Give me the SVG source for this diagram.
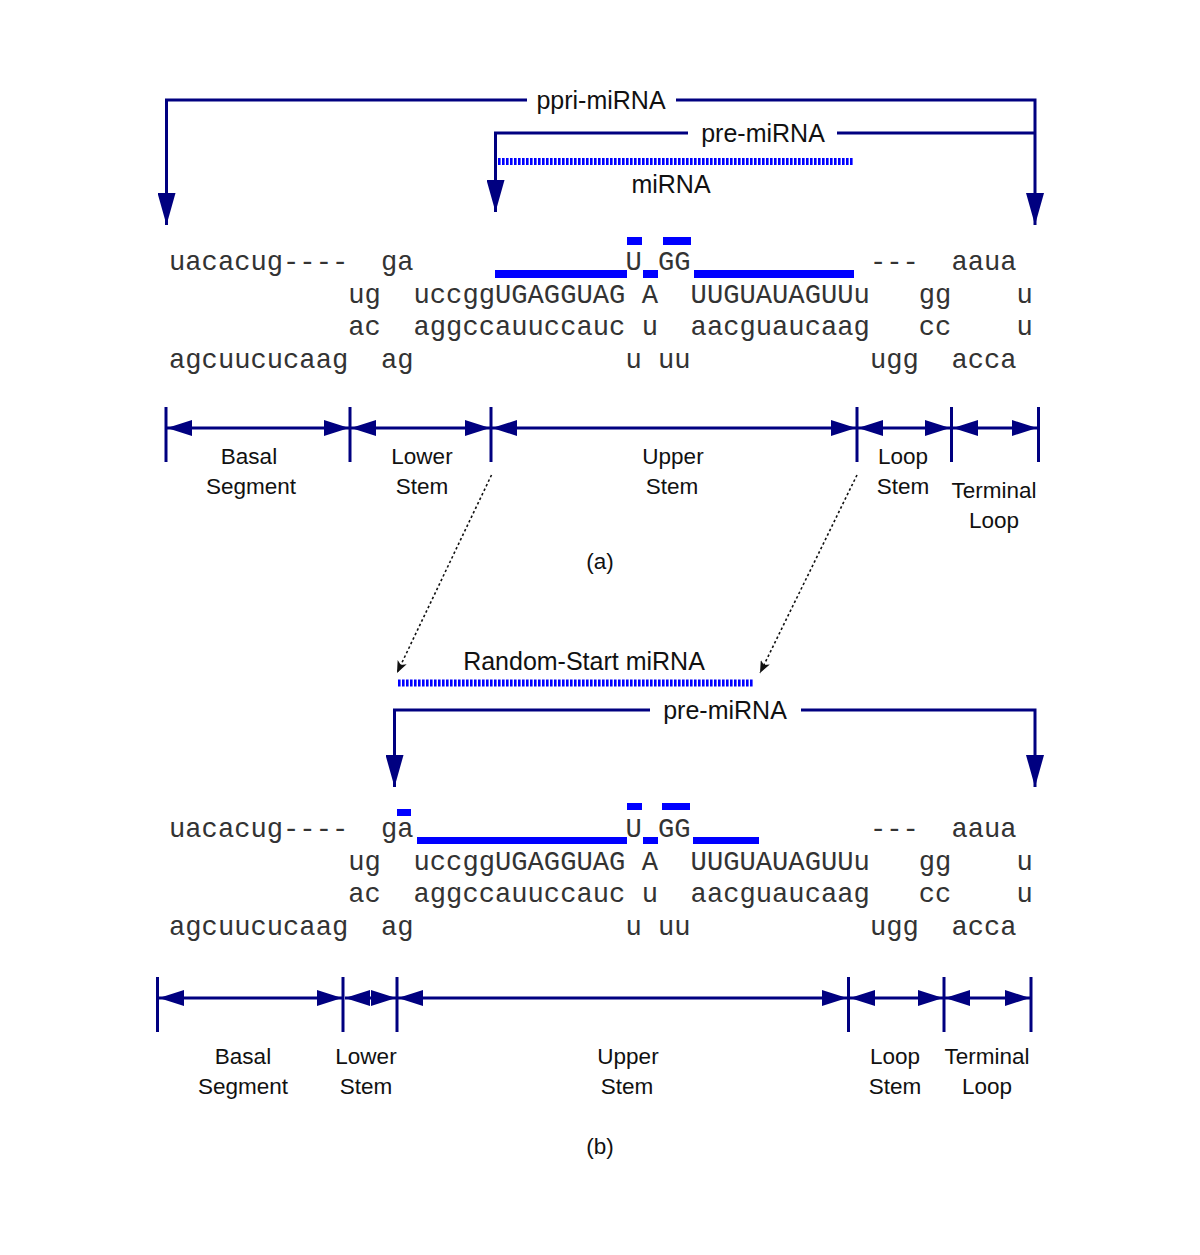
<svg xmlns="http://www.w3.org/2000/svg" width="1200" height="1255" viewBox="0 0 1200 1255">
<defs>
<style>
.nv{stroke:#000080;stroke-width:3;fill:none}
.tk{stroke:#000080;stroke-width:3}
.dot{stroke:#111;stroke-width:1.6;stroke-dasharray:2.5 2.5;fill:none}
.mir{stroke:#0000ff;stroke-width:7;stroke-dasharray:2.6 1.4;fill:none}
.bar{fill:#0000ff}
.lbl{font-family:"Liberation Sans",Arial,sans-serif;font-size:25px;fill:#111;text-anchor:middle}
.seg{font-family:"Liberation Sans",Arial,sans-serif;font-size:22.5px;fill:#111;text-anchor:middle}
.seq{font-family:"Liberation Mono","Courier New",monospace;font-size:27.16px;fill:#333}
</style>
<marker id="down" markerUnits="userSpaceOnUse" viewBox="0 0 32 18" refX="32" refY="9" markerWidth="32" markerHeight="18" orient="auto"><path d="M0,0 L32,9 L0,18 z" fill="#000080"/></marker>
<marker id="tip" markerUnits="userSpaceOnUse" viewBox="0 0 25 16" refX="25" refY="8" markerWidth="25" markerHeight="16" orient="auto-start-reverse"><path d="M0,0 L25,8 L0,16 z" fill="#000080"/></marker>
<marker id="sm" markerUnits="userSpaceOnUse" viewBox="0 0 12 10" refX="12" refY="5" markerWidth="12" markerHeight="10" orient="auto"><path d="M0,0 L12,5 L0,10 L3,5 z" fill="#111"/></marker>
</defs>
<rect width="1200" height="1255" fill="#fff"/>

<g id="connectors">
<path class="nv" d="M527,100 H166.5 V225" marker-end="url(#down)"/>
<path class="nv" d="M676,100 H1035 V225" marker-end="url(#down)"/>
<path class="nv" d="M688,133 H495.5 V212" marker-end="url(#down)"/>
<path class="nv" d="M837,133 H1035"/>
<line class="mir" x1="498" y1="161.5" x2="853" y2="161.5"/>
<line class="tk" x1="166" y1="407" x2="166" y2="462"/>
<line class="tk" x1="350" y1="407" x2="350" y2="462"/>
<line class="tk" x1="491" y1="407" x2="491" y2="462"/>
<line class="tk" x1="857" y1="407" x2="857" y2="462"/>
<line class="tk" x1="951.5" y1="407" x2="951.5" y2="462"/>
<line class="tk" x1="1038.5" y1="407" x2="1038.5" y2="462"/>
<line class="nv" x1="167" y1="428" x2="349" y2="428" marker-start="url(#tip)" marker-end="url(#tip)"/>
<line class="nv" x1="351" y1="428" x2="490" y2="428" marker-start="url(#tip)" marker-end="url(#tip)"/>
<line class="nv" x1="492" y1="428" x2="856" y2="428" marker-start="url(#tip)" marker-end="url(#tip)"/>
<line class="nv" x1="858" y1="428" x2="950" y2="428" marker-start="url(#tip)" marker-end="url(#tip)"/>
<line class="nv" x1="953" y1="428" x2="1037" y2="428" marker-start="url(#tip)" marker-end="url(#tip)"/>
<line class="dot" x1="491.5" y1="475" x2="397" y2="673" marker-end="url(#sm)"/>
<line class="dot" x1="857" y1="475" x2="760" y2="673" marker-end="url(#sm)"/>
<line class="mir" x1="398" y1="683" x2="753" y2="683"/>
<path class="nv" d="M650,710 H394.5 V787" marker-end="url(#down)"/>
<path class="nv" d="M801,710 H1035 V787" marker-end="url(#down)"/>
<line class="tk" x1="157.5" y1="977" x2="157.5" y2="1032"/>
<line class="tk" x1="343" y1="977" x2="343" y2="1032"/>
<line class="tk" x1="397" y1="977" x2="397" y2="1032"/>
<line class="tk" x1="848.5" y1="977" x2="848.5" y2="1032"/>
<line class="tk" x1="944" y1="977" x2="944" y2="1032"/>
<line class="tk" x1="1031" y1="977" x2="1031" y2="1032"/>
<line class="nv" x1="159" y1="998" x2="342" y2="998" marker-start="url(#tip)" marker-end="url(#tip)"/>
<line class="nv" x1="345" y1="998" x2="396" y2="998" marker-start="url(#tip)" marker-end="url(#tip)"/>
<line class="nv" x1="398" y1="998" x2="847" y2="998" marker-start="url(#tip)" marker-end="url(#tip)"/>
<line class="nv" x1="850" y1="998" x2="943" y2="998" marker-start="url(#tip)" marker-end="url(#tip)"/>
<line class="nv" x1="945" y1="998" x2="1030" y2="998" marker-start="url(#tip)" marker-end="url(#tip)"/>
</g>

<g id="labels-a">
<text class="lbl" x="601" y="109">ppri-miRNA</text>
<text class="lbl" x="763" y="142">pre-miRNA</text>
<text class="lbl" x="671" y="193">miRNA</text>
</g>

<g id="hairpin-a">
<rect class="bar" x="495" y="270" width="132" height="8"/>
<rect class="bar" x="643" y="270" width="15" height="8"/>
<rect class="bar" x="694" y="270" width="160" height="8"/>
<rect class="bar" x="627" y="237" width="15" height="8"/>
<rect class="bar" x="663" y="237" width="28" height="8"/>
<text class="seq" y="270"><tspan x="169">uacacug----</tspan><tspan x="380.9">ga</tspan><tspan x="625.4">U</tspan><tspan x="658">GG</tspan><tspan x="869.9">---</tspan><tspan x="951.4">aaua</tspan></text>
<text class="seq" y="303"><tspan x="348.3">ug</tspan><tspan x="413.5">uccggUGAGGUAG</tspan><tspan x="641.7">A</tspan><tspan x="690.6">UUGUAUAGUUu</tspan><tspan x="918.8">gg</tspan><tspan x="1016.6">u</tspan></text>
<text class="seq" y="335"><tspan x="348.3">ac</tspan><tspan x="413.5">aggccauuccauc</tspan><tspan x="641.7">u</tspan><tspan x="690.6">aacguaucaag</tspan><tspan x="918.8">cc</tspan><tspan x="1016.6">u</tspan></text>
<text class="seq" y="368"><tspan x="169">agcuucucaag</tspan><tspan x="380.9">ag</tspan><tspan x="625.4">u</tspan><tspan x="658">uu</tspan><tspan x="869.9">ugg</tspan><tspan x="951.4">acca</tspan></text>
</g>

<g id="segments-a">
<text class="seg" x="249" y="464">Basal</text>
<text class="seg" x="251" y="494">Segment</text>
<text class="seg" x="422" y="464">Lower</text>
<text class="seg" x="422" y="494">Stem</text>
<text class="seg" x="673" y="464">Upper</text>
<text class="seg" x="672" y="494">Stem</text>
<text class="seg" x="903" y="464">Loop</text>
<text class="seg" x="903" y="494">Stem</text>
<text class="seg" x="994" y="498">Terminal</text>
<text class="seg" x="994" y="528">Loop</text>
<text class="seg" x="600" y="569">(a)</text>
</g>

<g id="labels-b">
<text class="lbl" x="584" y="670">Random-Start miRNA</text>
<text class="lbl" x="725" y="719">pre-miRNA</text>
</g>

<g id="hairpin-b">
<rect class="bar" x="397" y="809" width="14" height="7"/>
<rect class="bar" x="417" y="837" width="210" height="7"/>
<rect class="bar" x="643" y="837" width="15" height="7"/>
<rect class="bar" x="693" y="837" width="66" height="7"/>
<rect class="bar" x="627" y="803" width="15" height="7"/>
<rect class="bar" x="662" y="803" width="28" height="7"/>
<text class="seq" y="837"><tspan x="169">uacacug----</tspan><tspan x="380.9">ga</tspan><tspan x="625.4">U</tspan><tspan x="658">GG</tspan><tspan x="869.9">---</tspan><tspan x="951.4">aaua</tspan></text>
<text class="seq" y="870"><tspan x="348.3">ug</tspan><tspan x="413.5">uccggUGAGGUAG</tspan><tspan x="641.7">A</tspan><tspan x="690.6">UUGUAUAGUUu</tspan><tspan x="918.8">gg</tspan><tspan x="1016.6">u</tspan></text>
<text class="seq" y="902"><tspan x="348.3">ac</tspan><tspan x="413.5">aggccauuccauc</tspan><tspan x="641.7">u</tspan><tspan x="690.6">aacguaucaag</tspan><tspan x="918.8">cc</tspan><tspan x="1016.6">u</tspan></text>
<text class="seq" y="935"><tspan x="169">agcuucucaag</tspan><tspan x="380.9">ag</tspan><tspan x="625.4">u</tspan><tspan x="658">uu</tspan><tspan x="869.9">ugg</tspan><tspan x="951.4">acca</tspan></text>
</g>

<g id="segments-b">
<text class="seg" x="243" y="1064">Basal</text>
<text class="seg" x="243" y="1094">Segment</text>
<text class="seg" x="366" y="1064">Lower</text>
<text class="seg" x="366" y="1094">Stem</text>
<text class="seg" x="628" y="1064">Upper</text>
<text class="seg" x="627" y="1094">Stem</text>
<text class="seg" x="895" y="1064">Loop</text>
<text class="seg" x="895" y="1094">Stem</text>
<text class="seg" x="987" y="1064">Terminal</text>
<text class="seg" x="987" y="1094">Loop</text>
<text class="seg" x="600" y="1154">(b)</text>
</g>
</svg>
